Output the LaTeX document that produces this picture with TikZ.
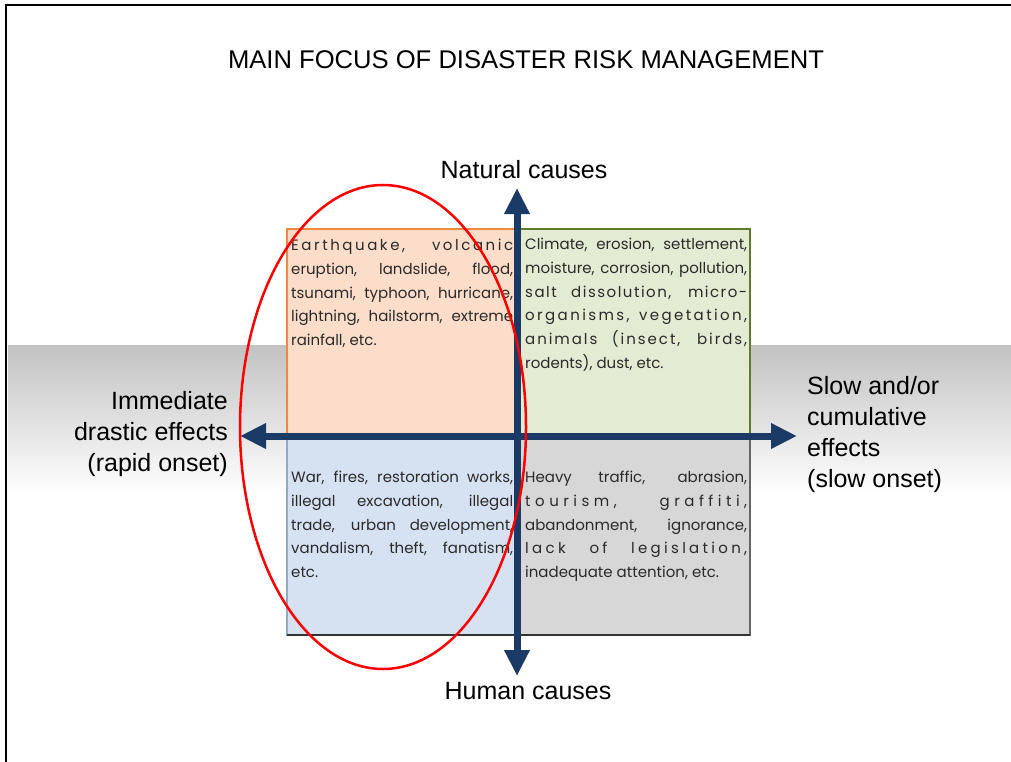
\documentclass[tikz,border=0pt]{standalone}
\usepackage{fontspec}
\setmainfont{Liberation Sans}
\newfontfamily\quadfont{Poppins}
\usetikzlibrary{arrows.meta}
\definecolor{axisblue}{HTML}{1B3A66}
\definecolor{tlfill}{HTML}{FCDDC9}
\definecolor{tlline}{HTML}{F0893A}
\definecolor{trfill}{HTML}{E3EBD3}
\definecolor{trline}{HTML}{5E7A2A}
\definecolor{blfill}{HTML}{D6E2F2}
\definecolor{blline}{HTML}{8FA8CC}
\definecolor{brfill}{HTML}{D7D7D7}
\definecolor{brline}{HTML}{666666}
\definecolor{bandgray}{HTML}{C2C2C2}
\definecolor{qtext}{HTML}{2A2A2A}
\newcommand{\spaced}[2]{{\addfontfeature{LetterSpace=#1}#2}}
\tikzset{
  qtxt/.style={anchor=north west, inner sep=0pt, text width=222pt, align=justify,
    font=\quadfont\fontsize{15}{23.7}\selectfont, text=qtext},
  biglabel/.style={font=\fontsize{25}{31}\selectfont, inner sep=0pt},
  axis/.style={draw=axisblue, line width=7pt, {Triangle[width=24pt,length=26pt]}-{Triangle[width=24pt,length=26pt]}},
  qbox/.style={line width=2pt}
}
\begin{document}
\begin{tikzpicture}[x=1pt,y=-1pt]
\useasboundingbox (0,0) rectangle (1011,762);
\fill[white] (0,0) rectangle (1011,762);
% gray band
\shade[top color=bandgray, bottom color=white] (8,345) rectangle (1011,495);
% frame
\draw[line width=2pt] (6,762) -- (6,5) -- (1011,5);
% title
\node[biglabel, font=\fontsize{25.6}{31}\selectfont] (title) at (526,60) {MAIN FOCUS OF DISASTER RISK MANAGEMENT};
% quadrants
\filldraw[qbox, fill=tlfill, draw=tlline] (287,229) rectangle (517,436);
\filldraw[qbox, fill=trfill, draw=trline] (517,229) rectangle (750,436);
\filldraw[qbox, fill=blfill, draw=blline] (287,436) rectangle (517,635);
\filldraw[qbox, fill=brfill, draw=brline] (517,436) rectangle (750,635);
\draw[line width=2.5pt, draw=black!80] (287,635) -- (750,635);
% quadrant texts
\node[qtxt] (tl) at (291,239) {\spaced{17}{Earthquake, volcanic}\linebreak eruption, landslide, flood,\linebreak tsunami, typhoon, hurricane,\linebreak lightning, hailstorm, extreme\linebreak rainfall, etc.};
\node[qtxt] (tr) at (525,238) {Climate, erosion, settlement,\linebreak moisture, corrosion, pollution,\linebreak \spaced{10}{salt dissolution, micro-}\linebreak \spaced{16}{organisms, vegetation,}\linebreak \spaced{13}{animals (insect, birds,}\linebreak rodents), dust, etc.};
\node[qtxt] (bl) at (291,471) {War, fires, restoration works,\linebreak illegal excavation, illegal\linebreak trade, urban development,\linebreak vandalism, theft, fanatism,\linebreak etc.};
\node[qtxt] (br) at (525,471) {Heavy traffic, abrasion,\linebreak \spaced{30}{tourism, graffiti,}\linebreak abandonment, ignorance,\linebreak \spaced{22}{lack of legislation,}\linebreak inadequate attention, etc.};
% axes
\coordinate (ntop) at (517,188);
\coordinate (nbot) at (517,676);
\coordinate (eleft) at (240,436);
\coordinate (eright) at (797,436);
\draw[axis] (ntop) -- (nbot);
\draw[axis] (eleft) -- (eright);
% labels
\node[biglabel] (nat) at (524,170) {Natural causes};
\node[biglabel] (hum) at (528,691) {Human causes};
\node[biglabel, anchor=east, align=right] (imm) at (228,434) {Immediate\\drastic effects\\(rapid onset)};
\node[biglabel, anchor=west, align=left] (slow) at (807,435) {Slow and/or\\cumulative\\effects\\(slow onset)};
% red ellipse
\draw[red, line width=2.5pt] (383,427) ellipse [x radius=143, y radius=242];
\end{tikzpicture}
\end{document}
